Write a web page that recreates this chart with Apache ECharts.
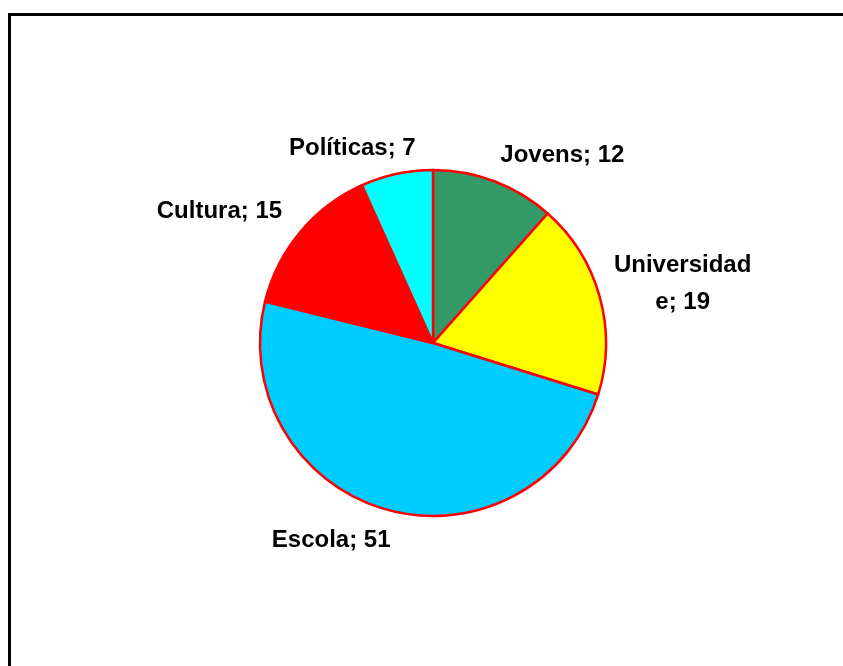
<!DOCTYPE html>
<html>
<head>
<meta charset="utf-8">
<script src="https://cdn.jsdelivr.net/npm/echarts@6/dist/echarts.min.js"></script>
<style>html,body{margin:0;padding:0;background:#fff}#c{width:843px;height:666px}</style>
</head>
<body>
<div id="c"></div>
<script>
const categories = ['Jovens', 'Universidade', 'Escola', 'Cultura', 'Políticas'];
const values = [12, 19, 51, 15, 7];
const colors = ['#339966', '#FFFF00', '#00CCFF', '#FF0000', '#00FFFF'];
// label nudges (style only)
const labelNudge = [
  {dx: 6, dy: -26},
  {dx: 83, dy: -13, align: 'center'},
  {dx: 4, dy: 31},
  {dx: -18, dy: -21},
  {dx: 19, dy: -25}
];

const chart = echarts.init(document.getElementById('c'), null, {renderer: 'canvas'});
chart.setOption({
  backgroundColor: '#fff',
  animation: false,
  graphic: [{
    type: 'rect',
    shape: {x: 9.5, y: 14.5, width: 900, height: 700},
    style: {fill: 'none', stroke: '#000', lineWidth: 3}
  }],
  series: [{
    type: 'pie',
    center: [433, 343],
    radius: 173,
    startAngle: 90,
    clockwise: true,
    avoidLabelOverlap: false,
    itemStyle: {borderColor: '#FF0000', borderWidth: 2.5},
    label: {
      show: true,
      position: 'outside',
      formatter: '{b}; {c}',
      fontFamily: 'Liberation Sans, Arial, sans-serif',
      fontWeight: 'bold',
      fontSize: 24,
      color: '#000',
      distanceToLabelLine: 0
    },
    labelLine: {show: false, length: 0, length2: 0},
    labelLayout: function (p) {
      const n = labelNudge[p.dataIndex];
      const o = {dx: n.dx, dy: n.dy};
      if (n.align) o.align = n.align;
      return o;
    },
    data: categories.map((c, i) => {
      const d = {name: c, value: values[i], itemStyle: {color: colors[i]}};
      if (c === 'Universidade') {
        d.label = {width: 148, overflow: 'breakAll', lineHeight: 37};
      }
      return d;
    })
  }]
});
</script>
</body>
</html>
